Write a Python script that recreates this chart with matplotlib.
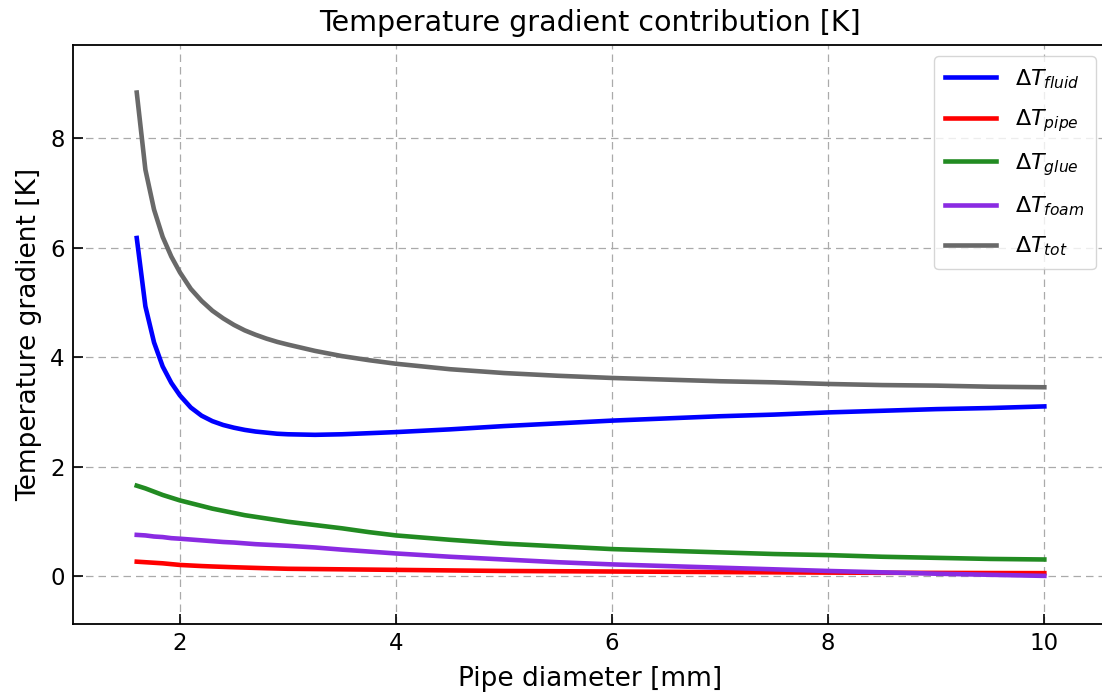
import matplotlib
matplotlib.use("Agg")
import matplotlib.pyplot as plt

plt.rcParams["font.family"] = ["DejaVu Sans"]
plt.rcParams["mathtext.fontset"] = "dejavusans"

diameter = [1.6, 1.68, 1.76, 1.84, 1.92, 2.0, 2.1, 2.2, 2.3, 2.4, 2.5, 2.6, 2.7, 2.8, 2.9, 3.0,
            3.25, 3.5, 3.75, 4.0, 4.5, 5.0, 5.5, 6.0, 6.5, 7.0, 7.5, 8.0, 8.5, 9.0, 9.5, 10.0]
dT_fluid = [6.18, 4.93, 4.27, 3.83, 3.53, 3.30, 3.08, 2.93, 2.83, 2.76, 2.71, 2.67, 2.64, 2.62, 2.60, 2.59,
            2.58, 2.59, 2.61, 2.63, 2.68, 2.74, 2.79, 2.84, 2.88, 2.92, 2.95, 2.99, 3.02, 3.05, 3.07, 3.10]
dT_pipe = [0.26, 0.25, 0.24, 0.23, 0.215, 0.20, 0.19, 0.18, 0.172, 0.165, 0.158, 0.152, 0.146, 0.14, 0.135, 0.13,
           0.125, 0.12, 0.115, 0.11, 0.10, 0.09, 0.085, 0.08, 0.075, 0.07, 0.065, 0.06, 0.057, 0.055, 0.052, 0.05]
dT_glue = [1.65, 1.60, 1.54, 1.48, 1.43, 1.38, 1.33, 1.28, 1.23, 1.19, 1.15, 1.11, 1.08, 1.05, 1.02, 0.99,
           0.93, 0.87, 0.80, 0.74, 0.66, 0.59, 0.54, 0.49, 0.46, 0.43, 0.40, 0.38, 0.35, 0.33, 0.31, 0.30]
dT_foam = [0.75, 0.74, 0.72, 0.71, 0.69, 0.68, 0.665, 0.65, 0.635, 0.62, 0.61, 0.595, 0.58, 0.57, 0.56, 0.55,
           0.52, 0.48, 0.445, 0.41, 0.35, 0.30, 0.25, 0.21, 0.18, 0.15, 0.12, 0.09, 0.065, 0.04, 0.02, 0.0]
dT_tot = [8.84, 7.43, 6.70, 6.20, 5.84, 5.55, 5.25, 5.03, 4.85, 4.71, 4.59, 4.49, 4.41, 4.34, 4.28, 4.23,
          4.115, 4.02, 3.945, 3.88, 3.78, 3.71, 3.66, 3.62, 3.59, 3.56, 3.54, 3.51, 3.49, 3.48, 3.46, 3.45]

series = [
    (dT_fluid, r"$\Delta T_{fluid}$", "blue"),
    (dT_pipe, r"$\Delta T_{pipe}$", "red"),
    (dT_glue, r"$\Delta T_{glue}$", "forestgreen"),
    (dT_foam, r"$\Delta T_{foam}$", "blueviolet"),
    (dT_tot, r"$\Delta T_{tot}$", "dimgray"),
]

fig = plt.figure(figsize=(11.02, 6.96), dpi=100)
ax = fig.add_axes([73/1102, 1 - 624/696, (1107 - 73)/1102, (624 - 45)/696])

for vals, lab, col in series:
    ax.plot(diameter, vals, color=col, lw=3.3, label=lab)

ax.set_xlim(1.01, 10.58)
ax.set_ylim(-0.88, 9.71)
ax.set_xticks([2, 4, 6, 8, 10])
ax.set_yticks([0, 2, 4, 6, 8])
ax.tick_params(direction="in", length=7, width=1.2, labelsize=16.5, pad=6)
ax.grid(True, ls=(0, (6, 4)), color="#aaaaaa", lw=0.9)
for s in ax.spines.values():
    s.set_linewidth(1.3)

ax.set_title("Temperature gradient contribution [K]", fontsize=20.5, pad=10)
ax.set_xlabel("Pipe diameter [mm]", fontsize=19, labelpad=8)
ax.set_ylabel("Temperature gradient [K]", fontsize=19, labelpad=6)
ax.legend(loc="upper right", fontsize=16, borderpad=0.5, labelspacing=0.75, handlelength=2.3,
          handletextpad=0.85, framealpha=0.8)

fig.savefig("out.png", dpi=100)
